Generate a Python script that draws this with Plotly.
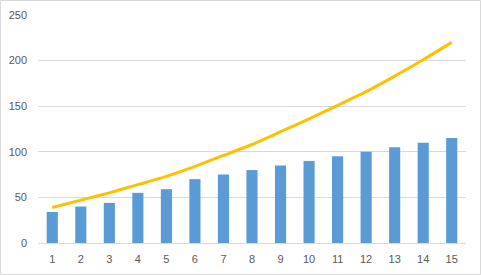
import plotly.graph_objects as go

categories = [str(i) for i in range(1, 16)]
bar_values = [34, 40, 44, 55, 59, 70, 75, 80, 85, 90, 95, 100, 105, 110, 115]
line_values = [39, 47, 55, 64, 73, 84, 96, 108, 122, 136, 151, 166, 183, 201, 220]
y_ticks = [0, 50, 100, 150, 200, 250]

W, H = 481, 275
ml, mr, mt, mb = 38, 15, 15, 32
pw, ph = W - ml - mr, H - mt - mb

fig = go.Figure()
fig.add_trace(go.Bar(x=categories, y=bar_values, marker_color="#5B9BD5",
                     marker_line_width=0, showlegend=False))
fig.add_trace(go.Scatter(x=categories, y=line_values, mode="lines",
                         line=dict(color="#FFC000", width=3, shape="spline", smoothing=0.6),
                         showlegend=False))

fig.update_layout(
    width=W, height=H,
    margin=dict(l=ml, r=mr, t=mt, b=mb, pad=0, autoexpand=False),
    paper_bgcolor="white", plot_bgcolor="white",
    bargap=0.61,
    font=dict(family="Liberation Sans, Arial, sans-serif", size=11, color="#595959"),
    xaxis=dict(type="category", range=[-0.5, 14.5], showgrid=False, showline=True,
               linecolor="#D9D9D9", linewidth=1, ticks="", zeroline=False, automargin=False,
               ticklabelstandoff=6, tickfont=dict(size=11, color="#595959")),
    yaxis=dict(range=[0, 250], tickvals=y_ticks, showgrid=True, gridcolor="#D9D9D9",
               gridwidth=1, zeroline=False, showline=False, ticks="", automargin=False,
               ticklabelstandoff=10, tickfont=dict(size=11, color="#595959")),
    shapes=[dict(type="rect", xref="paper", yref="paper",
                 x0=-(ml - 0.5) / pw, x1=1 + (mr - 0.5) / pw,
                 y0=-(mb - 0.5) / ph, y1=1 + (mt - 0.5) / ph,
                 line=dict(color="#D9D9D9", width=1), layer="below")],
)

fig.write_html("out.html")
